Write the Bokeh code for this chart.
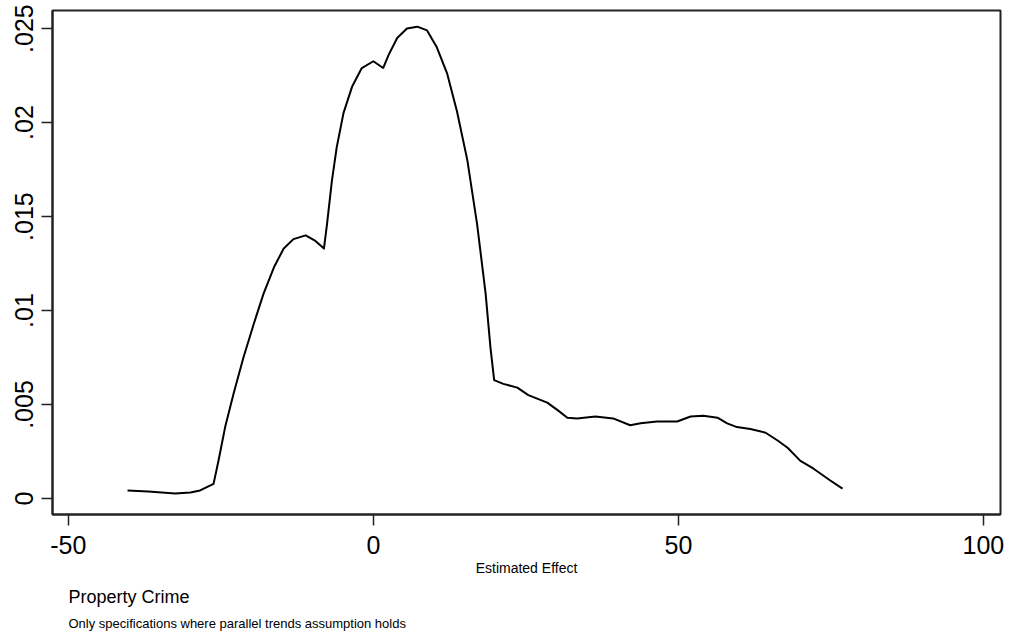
from bokeh.plotting import figure
from bokeh.models import FixedTicker, Title, Range1d
from bokeh.embed import file_html
from bokeh.resources import INLINE

# Kernel density of estimated effects
effect = [-40.3, -36.9, -32.5, -30.0, -28.4, -26.2, -25.4, -24.3, -22.9, -21.3,
          -19.6, -18.0, -16.3, -14.7, -13.1, -11.1, -9.5, -8.1, -7.6, -6.8,
          -6.0, -4.9, -3.5, -1.9, 0.0, 1.6, 2.5, 3.9, 5.5, 7.2, 8.8, 10.4,
          12.1, 13.7, 15.4, 17.0, 18.4, 19.2, 19.8, 21.3, 23.6, 25.4, 28.5,
          30.2, 31.8, 33.4, 36.4, 39.3, 42.1, 43.8, 46.5, 49.8, 52.0, 54.1,
          56.4, 58.0, 59.6, 61.8, 64.3, 66.2, 67.9, 70.0, 72.1, 74.9, 76.9]
density = [0.00043, 0.00037, 0.00027, 0.00032, 0.00043, 0.00078, 0.0020, 0.0038,
           0.0056, 0.0075, 0.0093, 0.0109, 0.0123, 0.0133, 0.0138, 0.0140,
           0.0137, 0.0133, 0.0146, 0.0169, 0.0187, 0.0205, 0.0219, 0.0229,
           0.02326, 0.0229, 0.0236, 0.0245, 0.0250, 0.0251, 0.0249, 0.0240,
           0.0226, 0.0206, 0.0180, 0.0146, 0.0109, 0.0080, 0.0063, 0.0061,
           0.0059, 0.0055, 0.0051, 0.0047, 0.0043, 0.00426, 0.00436, 0.00426,
           0.0039, 0.0040, 0.0041, 0.0041, 0.00436, 0.0044, 0.0043, 0.0040,
           0.0038, 0.0037, 0.0035, 0.0031, 0.0027, 0.0020, 0.0016, 0.00096,
           0.00053]

x_ticks = [-50, 0, 50, 100]
x_tick_labels = ["-50", "0", "50", "100"]
y_ticks = [0, 0.005, 0.01, 0.015, 0.02, 0.025]
y_tick_labels = ["0", ".005", ".01", ".015", ".02", ".025"]

x_label = "Estimated Effect"
subtitle = "Property Crime"
note = "Only specifications where parallel trends assumption holds"

FONT = "Liberation Sans"

p = figure(width=1010, height=641, output_backend="svg", toolbar_location=None,
           x_range=Range1d(-52.6, 102.8), y_range=Range1d(-0.00085, 0.02596),
           min_border_left=52, min_border_right=10, min_border_top=10,
           min_border_bottom=127)
p.background_fill_color = "white"
p.border_fill_color = "white"
p.grid.visible = False
p.outline_line_color = "#222222"
p.outline_line_width = 2

p.line(effect, density, line_color="black", line_width=2, line_join="round")

for ax in (p.xaxis[0], p.yaxis[0]):
    ax.axis_line_color = "#222222"
    ax.axis_line_width = 2
    ax.major_tick_line_color = "#222222"
    ax.major_tick_line_width = 1.5
    ax.major_tick_out = 11
    ax.major_tick_in = 0
    ax.minor_tick_out = 0
    ax.minor_tick_in = 0
    ax.major_label_text_font = FONT
    ax.major_label_text_font_size = "25px"
    ax.major_label_text_color = "black"

p.xaxis.ticker = FixedTicker(ticks=x_ticks)
p.xaxis.major_label_overrides = dict(zip(x_ticks, x_tick_labels))
p.yaxis.ticker = FixedTicker(ticks=y_ticks)
p.yaxis.major_label_overrides = dict(zip(y_ticks, y_tick_labels))
p.yaxis.major_label_orientation = "vertical"
p.yaxis.major_label_standoff = 8
p.xaxis.major_label_standoff = 10

p.xaxis.axis_label = x_label
p.xaxis.axis_label_text_font = FONT
p.xaxis.axis_label_text_font_size = "14px"
p.xaxis.axis_label_text_font_style = "normal"
p.xaxis.axis_label_text_color = "black"
p.xaxis.axis_label_standoff = 3

t1 = Title(text=subtitle, align="left", offset=16, text_font=FONT,
           text_font_size="18px", text_font_style="normal", text_color="black",
           standoff=12)
t2 = Title(text=note, align="left", offset=16, text_font=FONT,
           text_font_size="13px", text_font_style="normal", text_color="black",
           standoff=2)
p.add_layout(t1, "below")
p.add_layout(t2, "below")

open("out.html", "w").write(file_html(p, INLINE))
